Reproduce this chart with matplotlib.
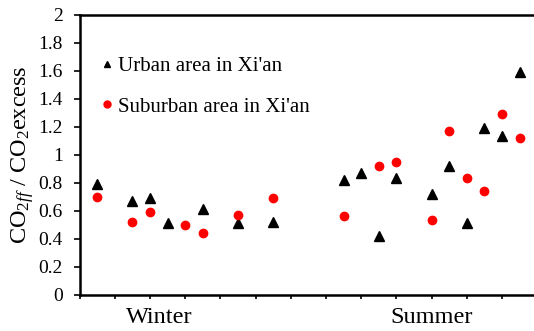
import matplotlib
matplotlib.use("Agg")
import matplotlib.pyplot as plt
from matplotlib.lines import Line2D

# sample positions (half-tick units along the x axis)
urban_x = [1, 3, 4, 5, 7, 9, 11, 15, 16, 17, 18, 20, 21, 22, 23, 24, 25]
urban_y = [0.79, 0.67, 0.69, 0.51, 0.61, 0.51, 0.52,
           0.82, 0.87, 0.42, 0.83, 0.72, 0.92, 0.51, 1.19, 1.13, 1.59]

suburban_x = [1, 3, 4, 6, 7, 9, 11, 15, 17, 18, 20, 21, 22, 23, 24, 25]
suburban_y = [0.70, 0.52, 0.59, 0.50, 0.44, 0.57, 0.69,
              0.56, 0.92, 0.95, 0.53, 1.17, 0.83, 0.74, 1.29, 1.12]

season_labels = ["Winter", "Summer"]
season_pos = [4.5, 20]

y_ticks = [0, 0.2, 0.4, 0.6, 0.8, 1, 1.2, 1.4, 1.6, 1.8, 2]
y_tick_labels = ["0", "0.2", "0.4", "0.6", "0.8", "1", "1.2", "1.4", "1.6", "1.8", "2"]

plt.rcParams["font.family"] = ["Liberation Serif", "DejaVu Serif"]
plt.rcParams["mathtext.fontset"] = "custom"
plt.rcParams["mathtext.rm"] = "Liberation Serif"
plt.rcParams["mathtext.it"] = "Liberation Serif:italic"

fig = plt.figure(figsize=(5.34, 3.31), dpi=100)
ax = fig.add_axes([0.149, 0.1097, 0.857, 0.8459])

ax.plot(urban_x, urban_y, linestyle="none", marker="^", color="black",
        markersize=7)
ax.plot(suburban_x, suburban_y, linestyle="none", marker="o", color="red",
        markersize=6)

ax.set_xlim(0, 26)
ax.set_ylim(0, 2)
ax.set_xticks(range(0, 27, 2))
ax.set_xticklabels([])
ax.set_yticks(y_ticks)
ax.set_yticklabels(y_tick_labels, fontsize=14)
ax.tick_params(axis="y", direction="out", length=4, width=1.2, pad=8)
ax.tick_params(axis="x", direction="out", length=3, width=1.2)

for side in ["left", "bottom", "top"]:
    ax.spines[side].set_linewidth(1.8)
ax.spines["right"].set_visible(False)

for lbl, pos in zip(season_labels, season_pos):
    ax.text(pos, -0.045, lbl, transform=ax.get_xaxis_transform(),
            ha="center", va="top", fontsize=17.5)

ax.set_ylabel(r"CO$_{2\mathit{ff}}$ / CO$_2$excess", fontsize=17.5, labelpad=2)

handles = [
    Line2D([], [], linestyle="none", marker="^", color="black", markersize=5),
    Line2D([], [], linestyle="none", marker="o", color="red", markersize=5),
]
ax.legend(handles, ["Urban area in Xi'an", "Suburban area in Xi'an"],
          loc="upper left", bbox_to_anchor=(0.0, 0.925), frameon=False,
          fontsize=15, handlelength=0.6, handletextpad=0.25,
          labelspacing=1.0, borderaxespad=0.6)

fig.savefig("out.png", dpi=100)
